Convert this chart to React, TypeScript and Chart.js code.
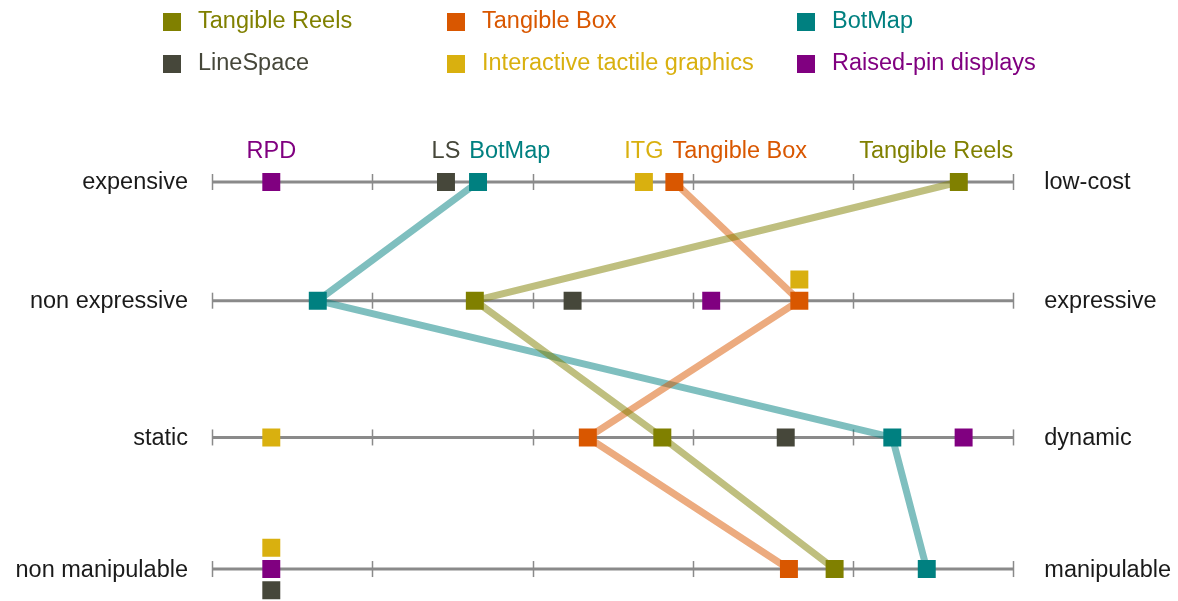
import React, { useEffect, useRef } from "react";
import { Chart, registerables } from "chart.js";

Chart.register(...registerables);

// ---- data ----
const rowLeftLabels = ["expensive", "non expressive", "static", "non manipulable"];
const rowRightLabels = ["low-cost", "expressive", "dynamic", "manipulable"];
const rowLevels = [3, 2.08, 1.02, 0];
const tickValues = [0, 20, 40, 60, 80, 100];

const seriesNames = [
  "Tangible Reels",
  "Tangible Box",
  "BotMap",
  "LineSpace",
  "Interactive tactile graphics",
  "Raised-pin displays",
];
const shortNames = ["Tangible Reels", "Tangible Box", "BotMap", "LS", "ITG", "RPD"];

const tangibleReels = [93.2, 32.8, 56.2, 77.7];
const tangibleBox = [57.7, 73.3, 46.9, 72.0];
const botMap = [33.2, 13.2, 84.9, 89.2];
const lineSpace = [29.2, 45.0, 71.6, 7.4];
const interactiveTactile = [53.9, 73.3, 7.4, 7.4];
const raisedPin = [7.4, 62.3, 93.8, 7.4];

const seriesValues = [tangibleReels, tangibleBox, botMap, lineSpace, interactiveTactile, raisedPin];
const connected = [true, true, true, false, false, false];

const seriesColors = ["#808000", "#d95700", "#008080", "#46473a", "#d9b00f", "#800080"];
const lineColors = [
  "rgba(128,128,0,0.5)",
  "rgba(217,87,0,0.5)",
  "rgba(0,128,128,0.5)",
  "rgba(70,71,58,0.5)",
  "rgba(217,176,15,0.5)",
  "rgba(128,0,128,0.5)",
];
// which series stays centred when several share a spot (first), then above, then below
const stackPriority = [0, 1, 2, 5, 4, 3];

const FONT = '"Liberation Sans", Arial, sans-serif';
const FONT_SIZE = 23.5;
const STACK_STEP = 0.165;

function stackOffsets(): number[][] {
  const offs = seriesValues.map((v) => v.map(() => 0));
  rowLevels.forEach((_, r) => {
    const groups: Record<string, number[]> = {};
    stackPriority.forEach((s) => {
      const key = String(seriesValues[s][r]);
      (groups[key] = groups[key] || []).push(s);
    });
    Object.values(groups).forEach((g) => {
      g.forEach((s, i) => {
        const k = i === 0 ? 0 : i % 2 === 1 ? Math.ceil(i / 2) : -Math.ceil(i / 2);
        offs[s][r] = k;
      });
    });
  });
  return offs;
}

const overlayPlugin = {
  id: "overlay",
  beforeDatasetsDraw(chart: any) {
    const { ctx, scales } = chart;
    const xs = scales.x;
    const ys = scales.y;
    const x0 = xs.getPixelForValue(0);
    const x1 = xs.getPixelForValue(100);
    ctx.save();
    rowLevels.forEach((lv) => {
      const y = ys.getPixelForValue(lv);
      ctx.strokeStyle = "#8a8a8a";
      ctx.lineWidth = 3;
      ctx.beginPath();
      ctx.moveTo(x0, y);
      ctx.lineTo(x1, y);
      ctx.stroke();
      ctx.lineWidth = 1.5;
      tickValues.forEach((t) => {
        const x = Math.round(xs.getPixelForValue(t)) + 0.5;
        ctx.beginPath();
        ctx.moveTo(x, y - 8);
        ctx.lineTo(x, y + 8);
        ctx.stroke();
      });
    });
    ctx.restore();
  },
  afterDraw(chart: any) {
    const { ctx, scales } = chart;
    const xs = scales.x;
    const ys = scales.y;
    const x0 = xs.getPixelForValue(0);
    const x1 = xs.getPixelForValue(100);
    ctx.save();
    ctx.font = `${FONT_SIZE}px ${FONT}`;
    ctx.textBaseline = "middle";

    // row labels
    rowLevels.forEach((lv, r) => {
      const y = ys.getPixelForValue(lv) + 1;
      ctx.fillStyle = "#1a1a1a";
      ctx.textAlign = "right";
      ctx.fillText(rowLeftLabels[r], x0 - 24, y);
      ctx.textAlign = "left";
      ctx.fillText(rowRightLabels[r], x1 + 31, y);
    });

    // top labels for first row (greedy, no overlap)
    const yTop = ys.getPixelForValue(rowLevels[0]) - 30;
    const items = seriesValues
      .map((v, s) => ({ s, x: xs.getPixelForValue(v[0]), w: ctx.measureText(shortNames[s]).width }))
      .sort((a, b) => a.x - b.x);
    let prevRight = -Infinity;
    const placed = items.map((it) => {
      let left = it.x - it.w / 2;
      if (left < prevRight + 9) left = prevRight + 9;
      if (left + it.w > x1) left = x1 - it.w;
      prevRight = left + it.w;
      return { ...it, left };
    });
    ctx.textAlign = "left";
    placed.forEach((p) => {
      ctx.fillStyle = seriesColors[p.s];
      ctx.fillText(shortNames[p.s], p.left, yTop);
    });

    // legend
    const colX = [172, 456, 806];
    const rowY = [22, 64];
    seriesNames.forEach((name, i) => {
      const cx = colX[i % 3];
      const cy = rowY[Math.floor(i / 3)];
      ctx.fillStyle = seriesColors[i];
      ctx.fillRect(cx - 9, cy - 9, 18, 18);
      ctx.textAlign = "left";
      ctx.fillText(name, cx + 26, cy);
    });
    ctx.restore();
  },
};

export default function App() {
  const ref = useRef<HTMLCanvasElement>(null);
  useEffect(() => {
    document.body.style.margin = "0";
    const canvas = ref.current;
    if (!canvas) return;
    const offs = stackOffsets();
    const lineSets = seriesValues
      .map((vals, s) => ({ vals, s }))
      .filter(({ s }) => connected[s])
      .map(({ vals, s }) => ({
        label: seriesNames[s] + " line",
        data: vals.map((v, r) => ({ x: v, y: rowLevels[r] })),
        showLine: true,
        borderColor: lineColors[s],
        borderWidth: 7,
        pointRadius: 0,
        fill: false,
        order: 5,
      }));
    const pointSets = seriesValues.map((vals, s) => ({
      label: seriesNames[s],
      data: vals.map((v, r) => ({ x: v, y: rowLevels[r] + offs[s][r] * STACK_STEP })),
      showLine: false,
      pointStyle: "rect",
      pointRadius: 12.7,
      pointBackgroundColor: seriesColors[s],
      pointBorderColor: seriesColors[s],
      pointBorderWidth: 0,
      backgroundColor: seriesColors[s],
      order: 1,
    }));
    const chart = new Chart(canvas, {
      type: "scatter",
      data: { datasets: [...lineSets, ...pointSets] as any },
      options: {
        responsive: false,
        animation: false,
        events: [],
        layout: { autoPadding: false, padding: { left: 212, right: 164.7, top: 117.5, bottom: 1 } },
        plugins: { legend: { display: false }, tooltip: { enabled: false } },
        scales: {
          x: { type: "linear", min: 0, max: 100, display: false },
          y: { type: "linear", min: -0.24, max: 3.5, display: false },
        },
      },
      plugins: [overlayPlugin],
    });
    return () => chart.destroy();
  }, []);
  return (
    <div style={{ width: 1178, height: 601 }}>
      <canvas ref={ref} width={1178} height={601} style={{ display: "block" }} />
    </div>
  );
}
